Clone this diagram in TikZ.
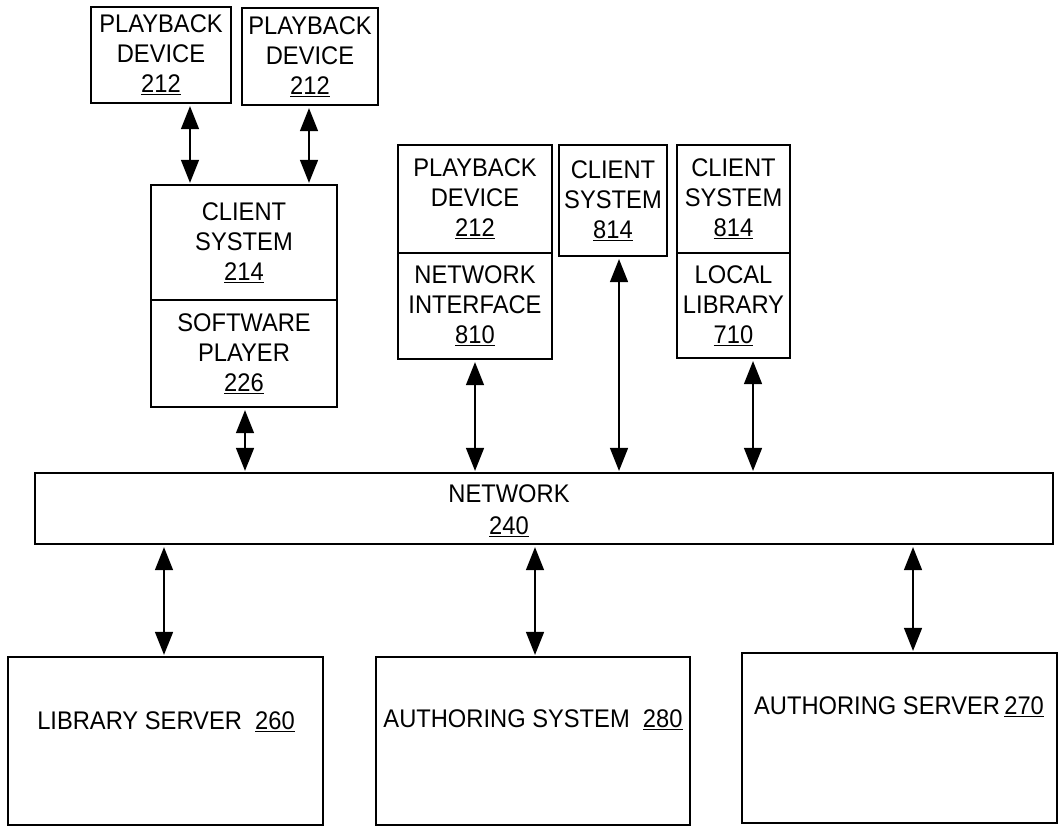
\documentclass[tikz,border=0pt]{standalone}
\usepackage{fontspec}
\setmainfont{Liberation Sans}[FakeStretch=0.93]
\usetikzlibrary{arrows.meta}
\begin{document}
\begin{tikzpicture}[x=1pt,y=-1pt,
  box/.style={draw,line width=2.2pt,rectangle,inner sep=0pt,align=center,
    font=\fontsize{25.5}{30}\selectfont},
  lbl/.style={inner sep=0pt,font=\fontsize{25.5}{30}\selectfont},
  dbl/.style={line width=1.4pt,{Triangle[length=23pt,width=18pt]}-{Triangle[length=23pt,width=18pt]},
    shorten <=2pt, shorten >=1pt}]
\useasboundingbox (0,0) rectangle (1061,827);
% top-left group
\node[box,minimum width=140,minimum height=96] (pb1) at (161,55) {PLAYBACK\\DEVICE\\\underline{212}};
\node[box,minimum width=136,minimum height=97] (pb2) at (310,56.5) {PLAYBACK\\DEVICE\\\underline{212}};
\node[box,minimum width=186,minimum height=115] (cs214) at (244,242.5) {CLIENT\\SYSTEM\\\underline{214}};
\node[box,minimum width=186,minimum height=107] (sp226) at (244,353.5) {SOFTWARE\\PLAYER\\\underline{226}};
% middle group
\node[box,minimum width=154,minimum height=108] (pb3) at (475,199) {PLAYBACK\\DEVICE\\\underline{212}};
\node[box,minimum width=154,minimum height=106] (ni810) at (475,306) {NETWORK\\INTERFACE\\\underline{810}};
\node[box,minimum width=108,minimum height=111] (cs814a) at (613,200.5) {CLIENT\\SYSTEM\\\underline{814}};
\node[box,minimum width=113,minimum height=108] (cs814b) at (733.5,199) {CLIENT\\SYSTEM\\\underline{814}};
\node[box,minimum width=113,minimum height=105] (ll710) at (733.5,305.5) {LOCAL\\LIBRARY\\\underline{710}};
% network
\node[box,minimum width=1018,minimum height=71] (net) at (544,508.5) {};
\node[lbl,align=center,font=\fontsize{25.5}{32}\selectfont] (netlbl) at (509,511) {NETWORK\\\underline{240}};
% bottom servers
\node[box,minimum width=315,minimum height=168] (ls260) at (165.5,741) {};
\node[lbl] (ls260l) at (166,722) {LIBRARY SERVER\ \ \underline{260}};
\node[box,minimum width=314,minimum height=168] (as280) at (533,741) {};
\node[lbl] (as280l) at (533,720) {AUTHORING SYSTEM\ \ \underline{280}};
\node[box,minimum width=315,minimum height=170] (as270) at (899.5,738) {};
\node[lbl] (as270l) at (899,707) {AUTHORING SERVER\,\underline{270}};
% connector x positions
\coordinate (x1) at (190,0);
\coordinate (x2) at (309,0);
\coordinate (x3) at (245,0);
\coordinate (x4) at (475,0);
\coordinate (x5) at (619,0);
\coordinate (x6) at (753,0);
\coordinate (x7) at (164,0);
\coordinate (x8) at (535,0);
\coordinate (x9) at (913,0);
\draw[dbl] (pb1.south -| x1) -- (cs214.north -| x1);
\draw[dbl] (pb2.south -| x2) -- (cs214.north -| x2);
\draw[dbl] (sp226.south -| x3) -- (net.north -| x3);
\draw[dbl] (ni810.south -| x4) -- (net.north -| x4);
\draw[dbl] (cs814a.south -| x5) -- (net.north -| x5);
\draw[dbl] (ll710.south -| x6) -- (net.north -| x6);
\draw[dbl] (net.south -| x7) -- (ls260.north -| x7);
\draw[dbl] (net.south -| x8) -- (as280.north -| x8);
\draw[dbl] (net.south -| x9) -- (as270.north -| x9);
\end{tikzpicture}
\end{document}
